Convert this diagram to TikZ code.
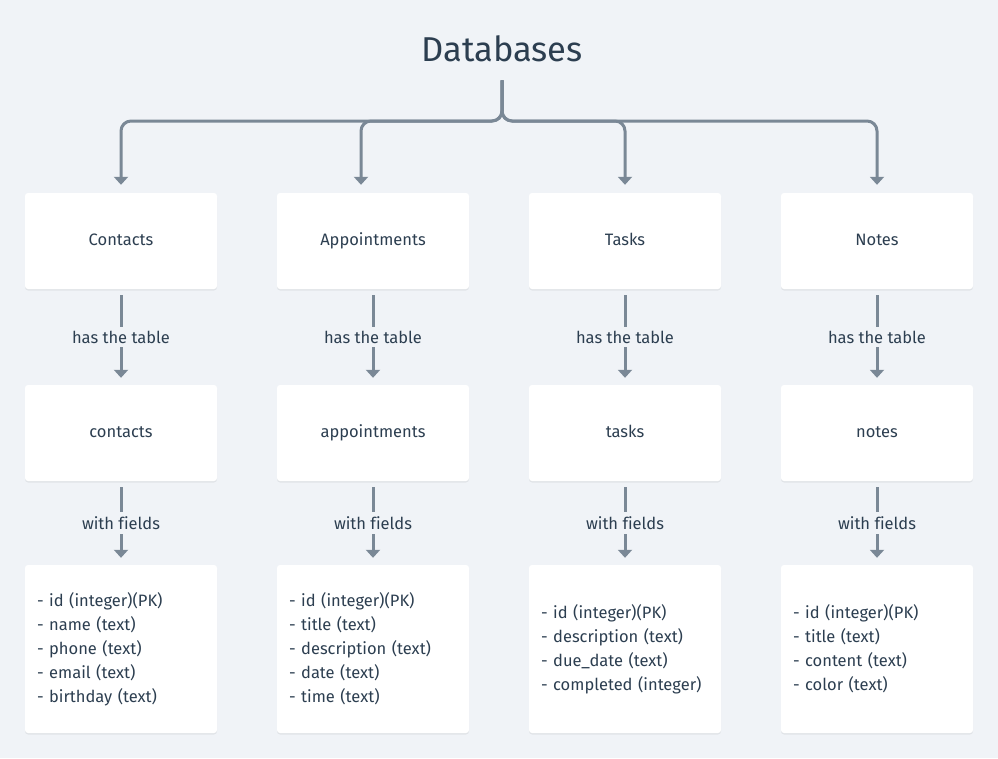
\documentclass[tikz,border=0pt]{standalone}
\usepackage{fontspec}
\setmainfont{Fira Sans}[Ligatures=NoCommon]
\usepackage{tikz}
\usetikzlibrary{arrows.meta,shadows}
\definecolor{bgcol}{HTML}{F0F3F7}
\definecolor{linecol}{HTML}{7A8896}
\definecolor{txtcol}{HTML}{2C3E50}
\tikzset{
  dbbox/.style={fill=white, rounded corners=3pt, minimum width=192pt, minimum height=96pt,
    inner sep=0pt, text=txtcol, font=\fontsize{16.5}{24}\selectfont,
    drop shadow={shadow xshift=0pt, shadow yshift=-1.5pt, opacity=0.06, fill=black}},
  namebox/.style={dbbox, text height=12pt, text depth=3.5pt},
  fieldbox/.style={dbbox, minimum height=168pt, text width=168pt, inner xsep=12pt, align=left},
  dbtitle/.style={inner sep=0pt, text=txtcol, font=\fontsize{34.5}{40}\selectfont},
  link/.style={draw=linecol, line width=3pt, -{Triangle[width=14pt,length=8pt]},
    shorten <=6pt, shorten >=7pt},
  linklabel/.style={fill=bgcol, text=txtcol, font=\fontsize{16.5}{24}\selectfont,
    inner xsep=2pt, inner ysep=4pt},
  branch/.style={draw=linecol, line width=3pt, rounded corners=10pt,
    -{Triangle[width=14pt,length=8pt]}, shorten <=18pt, shorten >=8pt}
}
\begin{document}
\begin{tikzpicture}[x=1pt,y=-1pt]
\fill[bgcol] (0,0) rectangle (998,758);
% title
\node[dbtitle] (db) at (502,49) {Databases};
% databases
\node[namebox] (contacts) at (121,241) {Contacts};
\node[namebox] (appointments) at (373,241) {Appointments};
\node[namebox] (tasks) at (625,241) {Tasks};
\node[namebox] (notes) at (877,241) {Notes};
% tables
\node[namebox] (contactstbl) at (121,433) {contacts};
\node[namebox] (appointmentstbl) at (373,433) {appointments};
\node[namebox] (taskstbl) at (625,433) {tasks};
\node[namebox] (notestbl) at (877,433) {notes};
% fields
\node[fieldbox] (contactsfld) at (121,649) {- id (integer)(PK)\\- name (text)\\- phone (text)\\- email (text)\\- birthday (text)};
\node[fieldbox] (appointmentsfld) at (373,649) {- id (integer)(PK)\\- title (text)\\- description (text)\\- date (text)\\- time (text)};
\node[fieldbox] (tasksfld) at (625,649) {- id (integer)(PK)\\- description (text)\\- due\_date (text)\\- completed (integer)};
\node[fieldbox] (notesfld) at (877,649) {- id (integer)(PK)\\- title (text)\\- content (text)\\- color (text)};
% branches from the title
\coordinate (split) at (502,121);
\coordinate (apptsdrop) at (361,121);
\draw[branch] (db.south) -- (split) -- (split -| contacts.north) -- (contacts.north);
\draw[branch] (db.south) -- (split) -- (apptsdrop) -- (apptsdrop |- appointments.north);
\draw[branch] (db.south) -- (split) -- (split -| tasks.north) -- (tasks.north);
\draw[branch] (db.south) -- (split) -- (split -| notes.north) -- (notes.north);
% has the table
\draw[link] (contacts) -- node[linklabel] {has the table} (contactstbl);
\draw[link] (appointments) -- node[linklabel] {has the table} (appointmentstbl);
\draw[link] (tasks) -- node[linklabel] {has the table} (taskstbl);
\draw[link] (notes) -- node[linklabel] {has the table} (notestbl);
% with fields
\draw[link] (contactstbl) -- node[linklabel] {with fields} (contactsfld);
\draw[link] (appointmentstbl) -- node[linklabel] {with fields} (appointmentsfld);
\draw[link] (taskstbl) -- node[linklabel] {with fields} (tasksfld);
\draw[link] (notestbl) -- node[linklabel] {with fields} (notesfld);
\end{tikzpicture}
\end{document}
